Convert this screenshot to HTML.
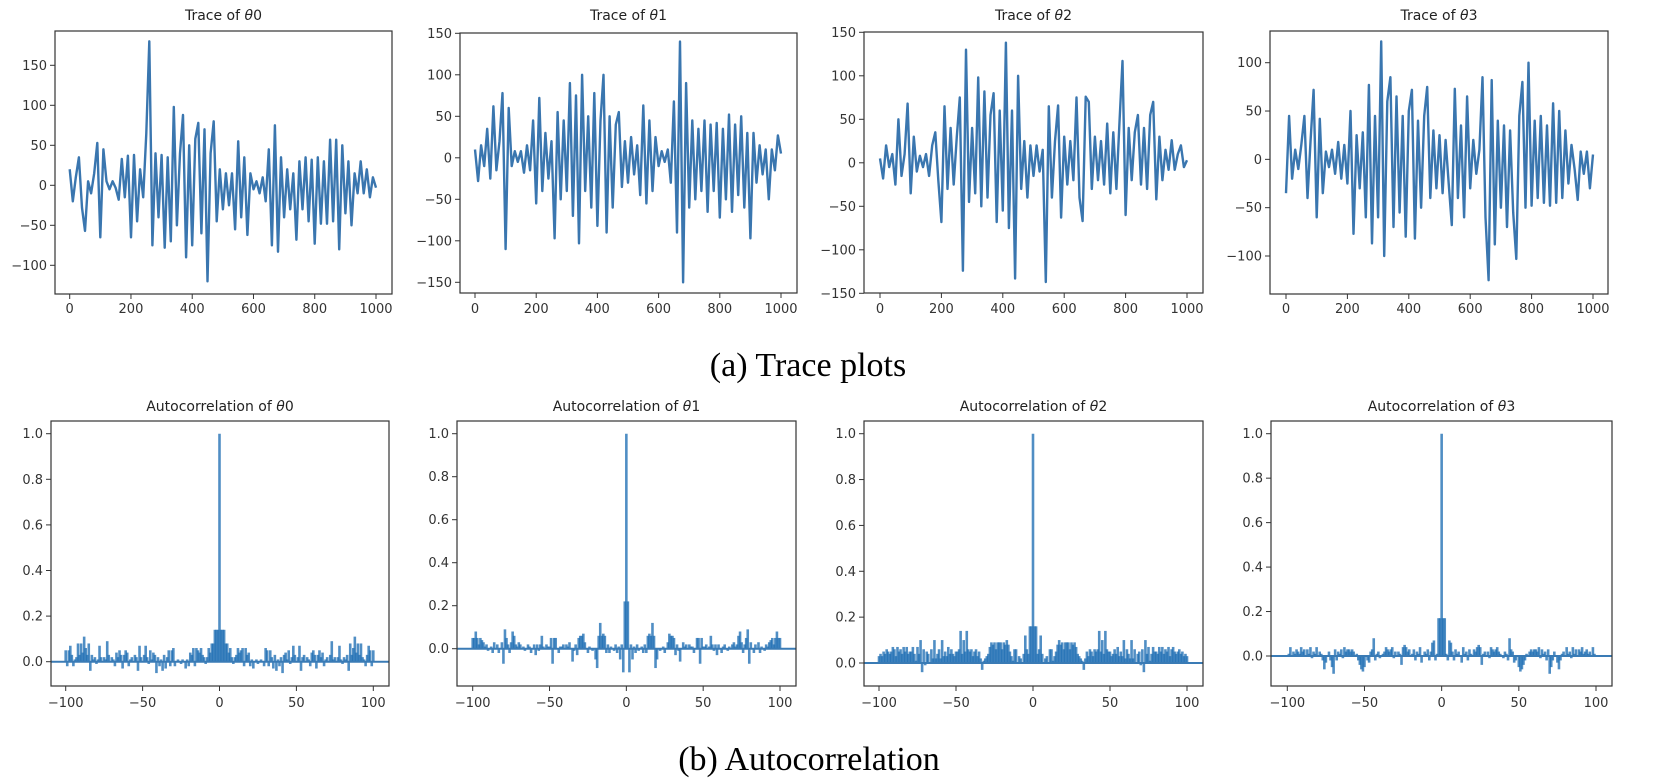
<!DOCTYPE html>
<html><head><meta charset="utf-8">
<style>
html,body{margin:0;padding:0;background:#fff;}
svg{display:block;}
.tick{font-family:"DejaVu Sans","Liberation Sans",sans-serif;font-size:13px;fill:#333;}
.title{font-family:"DejaVu Sans","Liberation Sans",sans-serif;font-size:14px;fill:#222;}
.cap{font-family:"Liberation Serif",serif;font-size:34px;fill:#000;}
</style></head>
<body>
<svg id="fig" width="1653" height="784" viewBox="0 0 1653 784" xmlns="http://www.w3.org/2000/svg">
<text class="cap" x="808" y="376" text-anchor="middle">(a) Trace plots</text>
<text class="cap" x="809" y="770" text-anchor="middle">(b) Autocorrelation</text>
</svg>
<script>
// ---- data ----
const traceT = [0,10,20,30,40,50,60,70,80,90,100,110,120,130,140,150,160,170,180,190,200,210,220,230,240,250,260,270,280,290,300,310,320,330,340,350,360,370,380,390,400,410,420,430,440,450,460,470,480,490,500,510,520,530,540,550,560,570,580,590,600,610,620,630,640,650,660,670,680,690,700,710,720,730,740,750,760,770,780,790,800,810,820,830,840,850,860,870,880,890,900,910,920,930,940,950,960,970,980,990,1000];
const trace0 = [20,-20,10,35,-28,-57,5,-10,15,53,-65,45,5,-5,5,-3,-18,33,-15,37,-65,38,-45,20,-15,65,180,-75,40,-40,38,-78,35,-70,98,-50,40,88,-90,50,-75,58,78,-60,70,-120,40,80,-45,20,-30,15,-25,15,-55,55,-40,35,-62,15,-5,5,-10,10,-20,45,-75,75,-83,35,-40,20,-30,15,-68,30,-30,35,-45,32,-73,35,-48,30,-48,57,-45,57,-80,50,-35,30,-50,15,-10,30,-10,20,-15,10,-3];
const trace1 = [10,-28,15,-10,35,-25,62,-15,20,78,-110,60,-10,8,-5,8,-18,15,-15,45,-55,72,-40,30,-25,20,-97,55,-50,45,-40,90,-70,75,-103,100,-40,50,-60,78,-82,45,100,-90,50,-60,40,55,-35,20,-30,25,-20,15,-45,63,-55,45,-40,25,-10,8,-5,10,-30,68,-90,140,-150,90,-60,45,-50,35,-40,45,-65,40,-40,42,-72,35,-50,52,-65,40,-45,50,-60,30,-97,30,-30,15,-20,10,-50,10,-15,27,5];
const trace2 = [5,-18,20,-5,10,-25,50,-15,10,68,-35,30,-10,8,-5,10,-15,20,35,-20,-68,65,-30,40,-25,30,75,-124,130,-45,40,-35,98,-50,82,-40,55,80,-68,60,-55,138,-75,60,-133,100,-30,25,-40,20,-15,20,-10,15,-137,65,-40,25,66,-63,30,-25,25,-20,75,-40,-67,76,70,-30,30,-20,25,-25,45,-35,35,-30,47,117,-60,40,-20,35,55,-25,40,-30,55,70,-42,30,-20,15,-8,26,-8,10,20,-5,3];
const trace3 = [-35,45,-20,10,-10,15,45,-40,20,72,-60,42,-35,8,-8,10,-15,18,-20,15,-25,50,-77,25,-30,28,-60,77,-87,45,-60,122,-100,60,85,-70,65,-55,45,-80,50,72,-82,40,-50,45,75,-40,30,-30,25,-35,20,-25,-68,73,-40,35,-60,65,-30,20,-15,10,85,-60,-125,82,-88,40,-50,35,-70,30,-55,-103,45,80,-50,100,-48,40,-40,45,-45,35,-48,58,-45,50,-40,30,-25,15,-10,-42,8,-15,8,-30,5];
const traceTitles = ["0","1","2","3"];
const traceYTicks0 = [-100,-50,0,50,100,150];
const traceYTicks1 = [-150,-100,-50,0,50,100,150];
const traceYTicks2 = [-150,-100,-50,0,50,100,150];
const traceYTicks3 = [-100,-50,0,50,100];
const traceXTicks = [0,200,400,600,800,1000];
// autocorrelation at lags 1..100 (symmetric for negative lags, lag 0 = 1)
const acf0 = [0.14,0.14,0.14,0.08,0.08,0.04,0.06,0.02,-0.01,0.02,0.03,0.06,0.04,0.05,0.06,-0.02,0.06,0.03,0.04,-0.02,0.01,-0.03,0.00,0.01,-0.01,0.00,0.01,0.00,-0.02,0.06,0.05,-0.02,0.05,0.02,-0.03,0.03,-0.04,0.01,-0.02,0.02,-0.05,0.03,0.04,0.01,0.05,-0.01,0.02,0.07,0.03,0.00,0.02,0.07,-0.04,0.02,0.03,0.00,0.02,0.01,-0.02,0.04,0.05,0.03,-0.03,0.03,0.05,0.02,0.04,-0.02,0.01,0.02,0.00,0.03,0.09,0.01,0.02,0.00,0.02,0.07,0.01,-0.01,0.02,0.01,0.03,-0.04,0.08,0.03,0.06,0.11,0.04,0.08,0.03,0.08,0.02,0.01,-0.02,0.03,0.07,0.05,-0.02,0.05];
const acf1 = [0.22,-0.11,0.02,-0.05,0.01,-0.02,0.02,-0.01,0.00,0.01,-0.02,0.02,-0.02,0.06,0.07,0.06,0.12,0.06,-0.09,-0.05,0.00,-0.01,0.00,0.01,-0.02,0.00,0.03,0.07,0.06,0.06,0.05,-0.03,0.02,-0.01,-0.06,0.00,0.03,0.01,0.02,0.00,0.02,0.01,0.01,-0.02,0.00,0.05,0.05,-0.07,0.05,0.01,0.01,0.02,0.00,0.01,0.06,0.02,-0.01,0.02,-0.03,0.02,0.00,-0.02,0.01,0.02,0.00,-0.01,0.01,0.00,0.02,0.03,0.01,0.02,0.06,0.08,0.03,-0.02,0.02,0.05,0.09,-0.07,0.03,0.00,-0.02,0.02,0.00,0.03,-0.02,0.01,0.00,-0.01,0.02,0.01,0.03,0.04,0.05,0.02,0.05,0.08,0.05,0.05];
const acf2 = [0.16,0.16,0.04,0.06,0.12,0.04,0.00,0.02,0.03,0.00,0.06,0.06,0.01,0.03,0.05,0.08,0.10,0.08,0.09,0.06,0.09,0.09,0.09,0.06,0.09,0.08,0.09,0.07,0.04,0.03,0.02,0.01,-0.03,0.02,0.05,0.03,0.06,0.05,0.03,0.06,0.05,0.06,0.14,0.05,0.10,0.04,0.14,0.06,0.05,0.05,0.03,0.04,0.06,0.04,0.07,0.03,0.05,0.03,0.10,0.02,0.06,0.04,0.02,0.10,0.02,0.06,0.00,0.04,0.05,-0.01,0.06,-0.04,0.10,0.04,0.07,0.01,0.04,0.07,0.05,0.05,0.04,0.07,0.05,0.07,0.04,0.06,0.05,0.07,0.03,0.06,0.07,0.05,0.04,0.05,0.06,0.04,0.05,0.03,0.04,0.03];
const acf3 = [0.17,0.17,0.01,-0.02,0.07,0.06,0.02,-0.02,0.03,0.01,0.02,0.00,-0.03,0.04,0.01,0.02,-0.02,0.03,0.01,0.00,0.03,0.02,0.04,0.05,0.04,-0.04,0.01,0.02,0.00,0.02,-0.01,0.04,0.03,0.02,0.03,0.04,0.02,0.01,0.00,-0.01,0.02,0.01,-0.02,0.08,0.03,0.02,-0.03,-0.02,0.00,-0.05,-0.07,-0.06,-0.04,-0.02,0.01,0.00,0.02,0.03,0.02,0.03,0.03,0.02,0.04,-0.01,0.03,0.01,0.02,-0.02,0.03,-0.08,-0.05,-0.02,0.02,0.00,-0.03,-0.06,-0.02,0.01,0.02,0.00,0.04,0.01,0.02,-0.01,0.04,0.01,0.03,0.00,0.03,0.02,0.04,0.01,0.02,0.03,0.01,0.02,0.00,0.04,0.01,0.00];
const acfYTicks = [0.0,0.2,0.4,0.6,0.8,1.0];
const acfXTicks = [-100,-50,0,50,100];

// ---- layout ----
const NS = "http://www.w3.org/2000/svg";
const svg = document.getElementById('fig');
function mk(tag, attrs, parent){const e=document.createElementNS(NS,tag);for(const k in attrs)e.setAttribute(k,attrs[k]);(parent||svg).appendChild(e);return e;}
function lin(v1,p1,v2,p2){return v=>p1+(v-v1)*(p2-p1)/(v2-v1);}

const tracePanels = [
 {box:[55,31,392,294], x:[0,69.7,1000,376], y:[0,185.3,150,65.3], data:trace0, yt:traceYTicks0},
 {box:[460,33,797,293], x:[0,475,1000,781], y:[150,33.3,-150,282.3], data:trace1, yt:traceYTicks1},
 {box:[864,32,1203,293], x:[0,880,1000,1187], y:[150,32.3,-150,293.3], data:trace2, yt:traceYTicks2},
 {box:[1270,31,1608,294], x:[0,1286,1000,1593], y:[100,62.7,-100,256], data:trace3, yt:traceYTicks3}
];
const acfPanels = [
 {box:[51,421,389,686], x:[-100,65.7,100,373.3], y:[0,661.7,1,433.7], data:acf0},
 {box:[457,421,796,686], x:[-100,472.7,100,780], y:[0,648.7,1,433.7], data:acf1},
 {box:[864,421,1203,686], x:[-100,879,100,1187], y:[0,663,1,433.7], data:acf2},
 {box:[1271,421,1612,686], x:[-100,1287.3,100,1596], y:[0,656,1,433.7], data:acf3}
];

function axes(g,p,sx,sy,xt,yt,fmt,xlabY){
  const [l,t,r,b]=p.box;
  yt.forEach(v=>{const y=sy(v);
    const tk=mk('line',{x1:l-5,x2:l,y1:y,y2:y,stroke:'#333','stroke-width':1},g);
    
    
    const tx=mk('text',{x:l-8,y:y+4.5,'text-anchor':'end',class:'tick'},g);
    tx.textContent=fmt(v);
    
    
  });
  xt.forEach(v=>{const x=sx(v);
    const tk=mk('line',{x1:x,x2:x,y1:b,y2:b+5,stroke:'#333','stroke-width':1},g);
    
    
    const tx=mk('text',{x:x,y:xlabY,'text-anchor':'middle',class:'tick'},g);
    tx.textContent=String(v).replace('-','\u2212');
    
    
  });
}
function frame(g,p){
  const [l,t,r,b]=p.box;
  const f=mk('rect',{x:l,y:t,width:r-l,height:b-t,fill:'none',stroke:'#333','stroke-width':1.2},g);
  
  
}
function title(g,p,label,num,y){
  const [l,t,r,b]=p.box;
  const tx=mk('text',{x:(l+r)/2,y:y,'text-anchor':'middle',class:'title'},g);
  
  
  const s1=mk('tspan',{},tx); s1.textContent=label+' ';
  const s2=mk('tspan',{'font-style':'italic'},tx); s2.textContent='\u03b8';
  const s3=mk('tspan',{},tx); s3.textContent=num;
}

tracePanels.forEach((p,i)=>{
  const g=mk('g',{});
  
  
  const sx=lin(p.x[0],p.x[1],p.x[2],p.x[3]);
  const sy=lin(p.y[0],p.y[1],p.y[2],p.y[3]);
  const pts=p.data.map((v,k)=>sx(traceT[k]).toFixed(1)+','+sy(v).toFixed(1)).join(' ');
  const pl=mk('polyline',{points:pts,fill:'none',stroke:'#3a76af','stroke-width':2.4,'stroke-linejoin':'round'},g);
  
  
  frame(g,p);
  axes(g,p,sx,sy,traceXTicks,p.yt,v=>String(v).replace('-','\u2212'),313);
  title(g,p,'Trace of',traceTitles[i],20);
});

acfPanels.forEach((p,i)=>{
  const g=mk('g',{});
  
  
  const sx=lin(p.x[0],p.x[1],p.x[2],p.x[3]);
  const sy=lin(p.y[0],p.y[1],p.y[2],p.y[3]);
  const y0=sy(0);
  const lags=[0], vals=[1];
  p.data.forEach((v,k)=>{lags.push(k+1);vals.push(v);lags.push(-(k+1));vals.push(v);});
  lags.forEach((lag,k)=>{
    const ln=mk('line',{x1:sx(lag),x2:sx(lag),y1:y0,y2:sy(vals[k]),stroke:'rgba(31,110,180,0.78)','stroke-width':2.6},g);
    
    
  });
  const hl=mk('line',{x1:p.box[0],x2:p.box[2],y1:y0,y2:y0,stroke:'#3a7bb5','stroke-width':2},g);
  
  
  frame(g,p);
  axes(g,p,sx,sy,acfXTicks,acfYTicks,v=>v.toFixed(1),707);
  title(g,p,'Autocorrelation of',traceTitles[i],411);
});
</script>
</body></html>
